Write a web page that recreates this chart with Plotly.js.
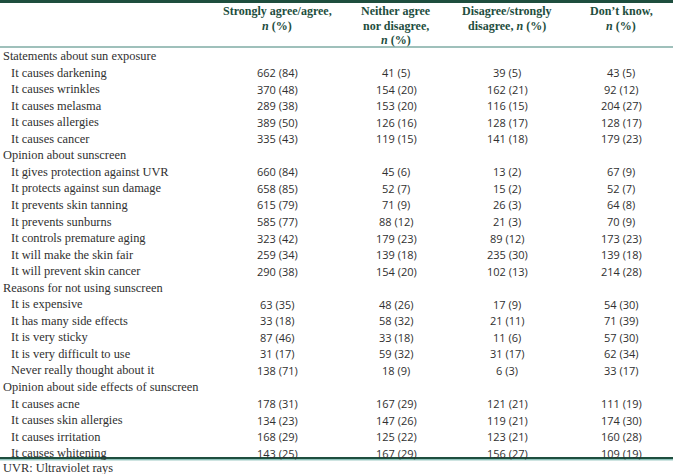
<!DOCTYPE html>
<html>
<head>
<meta charset="utf-8">
<script src="https://cdn.plot.ly/plotly-3.0.1.min.js"></script>
<style>html,body{margin:0;padding:0;background:#fff;}</style>
</head>
<body>
<div id="chart" style="width:673px;height:474px;"></div>
<script>
// ---- DATA ----
var columnHeaders = [
  ["Strongly agree/agree,", "<i>n</i> (%)"],
  ["Neither agree", "nor disagree,", "<i>n</i> (%)"],
  ["Disagree/strongly", "disagree, <i>n</i> (%)"],
  ["Don’t know,", "<i>n</i> (%)"]
];
var sections = [
  "Statements about sun exposure",
  "Opinion about sunscreen",
  "Reasons for not using sunscreen",
  "Opinion about side effects of sunscreen"
];
var items = [
  ["It causes darkening", "It causes wrinkles", "It causes melasma", "It causes allergies", "It causes cancer"],
  ["It gives protection against UVR", "It protects against sun damage", "It prevents skin tanning", "It prevents sunburns", "It controls premature aging", "It will make the skin fair", "It will prevent skin cancer"],
  ["It is expensive", "It has many side effects", "It is very sticky", "It is very difficult to use", "Never really thought about it"],
  ["It causes acne", "It causes skin allergies", "It causes irritation", "It causes whitening"]
];
var agreeN    = [662,370,289,389,335, 660,658,615,585,323,259,290, 63,33,87,31,138, 178,134,168,143];
var agreePct  = [84,48,38,50,43, 84,85,79,77,42,34,38, 35,18,46,17,71, 31,23,29,25];
var neitherN  = [41,154,153,126,119, 45,52,71,88,179,139,154, 48,58,33,59,18, 167,147,125,167];
var neitherPct= [5,20,20,16,15, 6,7,9,12,23,18,20, 26,32,18,32,9, 29,26,22,29];
var disagreeN = [39,162,116,128,141, 13,15,26,21,89,235,102, 17,21,11,31,6, 121,119,123,156];
var disagreePct=[5,21,15,17,18, 2,2,3,3,12,30,13, 9,11,6,17,3, 21,21,21,27];
var dkN       = [43,92,204,128,179, 67,52,64,70,173,139,214, 54,71,57,62,33, 111,174,160,109];
var dkPct     = [5,12,27,17,23, 9,7,8,9,23,18,28, 30,39,30,34,17, 19,30,28,19];
var footnote = "UVR: Ultraviolet rays";

// ---- LAYOUT ----
var colX = [277, 396, 507, 621];
var headerY = [11, 25.5, 40];
var rowY0 = 56, rowStep = 16.55;
var serif = "Liberation Serif, Times New Roman, serif";
var sans = "Open Sans, Noto Sans, sans-serif";
var green = "#1e4e3e";
var textCol = "#303030";

var ann = [];
columnHeaders.forEach(function(lines, c){
  lines.forEach(function(t, k){
    ann.push({x: colX[c], y: headerY[k], xref:'x', yref:'y', text: "<b>"+t+"</b>",
      showarrow:false, xanchor:'center', yanchor:'middle',
      font:{family: serif, size:12, color: green}});
  });
});
var cols = [[agreeN,agreePct],[neitherN,neitherPct],[disagreeN,disagreePct],[dkN,dkPct]];
var row = 0, idx = 0;
sections.forEach(function(sec, s){
  ann.push({x: 1, y: rowY0 + row*rowStep, xref:'x', yref:'y', text: sec, showarrow:false,
    xanchor:'left', yanchor:'middle', font:{family: serif, size:12.4, color:textCol}});
  row++;
  items[s].forEach(function(it){
    var y = rowY0 + row*rowStep;
    ann.push({x: 9, y: y, xref:'x', yref:'y', text: it, showarrow:false,
      xanchor:'left', yanchor:'middle', font:{family: serif, size:12.4, color:textCol}});
    cols.forEach(function(cp, c){
      ann.push({x: colX[c], y: y, xref:'x', yref:'y', text: cp[0][idx] + " (" + cp[1][idx] + ")",
        showarrow:false, xanchor:'center', yanchor:'middle',
        font:{family: sans, size:11, color:textCol}});
    });
    row++; idx++;
  });
});
ann.push({x: 1, y: 467.5, xref:'x', yref:'y', text: footnote, showarrow:false,
  xanchor:'left', yanchor:'middle', font:{family: serif, size:12.4, color:textCol}});

var shapes = [
  {type:'line', xref:'x', yref:'y', x0:0, x1:673, y0:1.5, y1:1.5, line:{color:green, width:3}},
  {type:'line', xref:'x', yref:'y', x0:0, x1:673, y0:47, y1:47, line:{color:'#9fc0bb', width:2}},
  {type:'line', xref:'x', yref:'y', x0:0, x1:673, y0:458, y1:458, line:{color:green, width:2}},
  {type:'line', xref:'x', yref:'y', x0:0, x1:673, y0:459.8, y1:459.8, line:{color:'#5aa59a', width:1}}
];

var layout = {
  width: 673, height: 474,
  margin: {l:0, r:0, t:0, b:0, pad:0},
  paper_bgcolor: '#ffffff', plot_bgcolor: '#ffffff',
  xaxis: {range:[0,673], visible:false, fixedrange:true},
  yaxis: {range:[474,0], visible:false, fixedrange:true},
  showlegend: false,
  annotations: ann,
  shapes: shapes
};
Plotly.newPlot('chart', [{x:[], y:[], type:'scatter', mode:'markers'}], layout, {displayModeBar:false, staticPlot:true});
</script>
</body>
</html>
